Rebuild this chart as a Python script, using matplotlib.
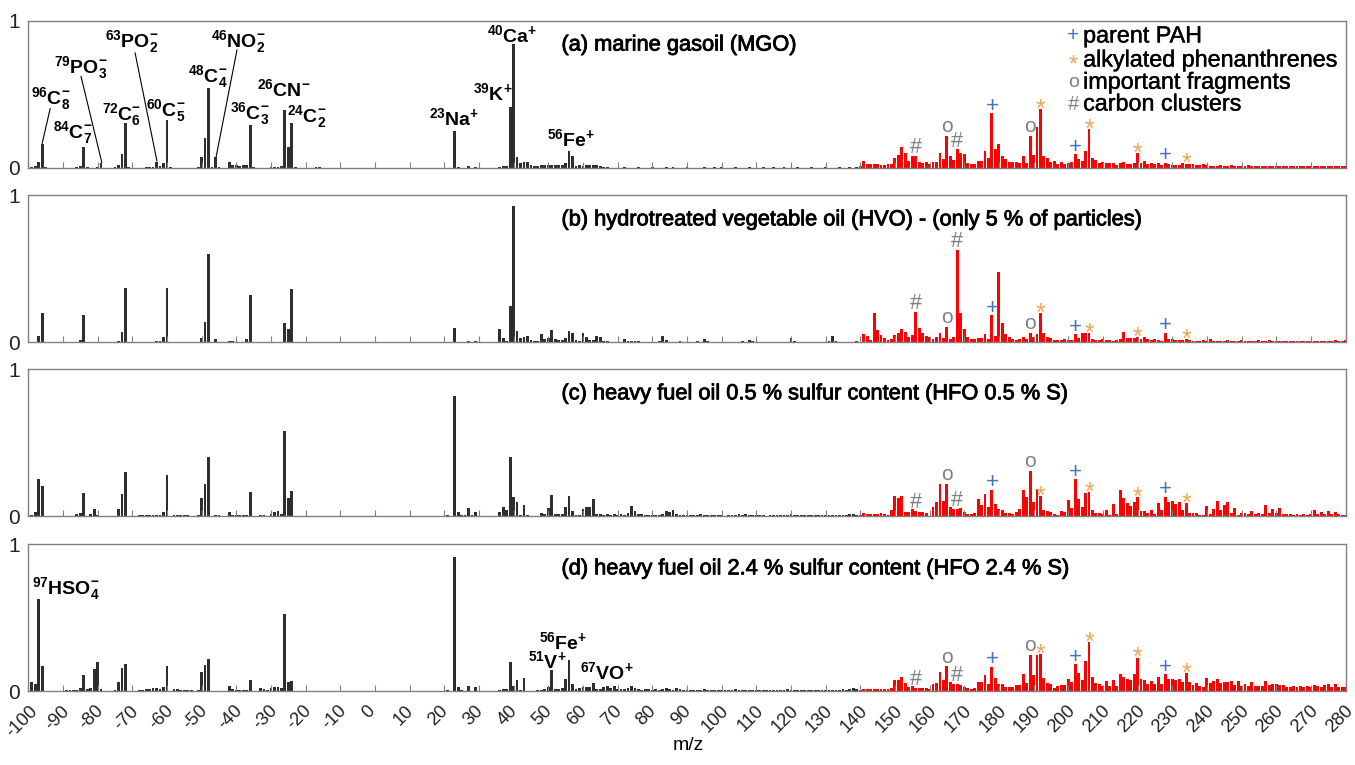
import matplotlib
matplotlib.use('Agg')
import matplotlib.pyplot as plt
import matplotlib.patheffects as pe
import matplotlib.transforms as mtransforms

plt.rcParams['font.family'] = ['Liberation Sans', 'DejaVu Sans']
plt.rcParams['mathtext.fontset'] = 'custom'
plt.rcParams['mathtext.rm'] = 'Liberation Sans:bold'
plt.rcParams['mathtext.bf'] = 'Liberation Sans:bold'
plt.rcParams['mathtext.it'] = 'Liberation Sans:bold'
plt.rcParams['mathtext.sf'] = 'Liberation Sans:bold'

# ---------------- data ----------------
titles = ["(a) marine gasoil (MGO)",
          "(b) hydrotreated vegetable oil (HVO) - (only 5 % of particles)",
          "(c) heavy fuel oil 0.5 % sulfur content (HFO 0.5 % S)",
          "(d) heavy fuel oil 2.4 % sulfur content (HFO 2.4 % S)"]

xticks = list(range(-100, 290, 10))
red_mz = list(range(140, 281))

# black part (m/z < 140): (m/z, relative intensity)
black_a = [(-99,0.005),(-98,0.01),(-97,0.04),(-96,0.16),(-95,0.003),(-86,0.004),(-85,0.01),(-84,0.14),(-83,0.005),
           (-80,0.005),(-79,0.03),(-75,0.004),(-74,0.02),(-73,0.09),(-72,0.30),(-71,0.005),(-66,0.004),(-65,0.004),
           (-64,0.003),(-63,0.04),(-62,0.01),(-61,0.03),(-60,0.32),(-59,0.004),(-51,0.005),(-50,0.07),(-49,0.20),
           (-48,0.54),(-47,0.005),(-46,0.07),(-45,0.003),(-42,0.04),(-41,0.015),(-40,0.02),(-39,0.012),(-38,0.015),
           (-37,0.02),(-36,0.29),(-35,0.003),(-30,0.003),(-29,0.003),(-28,0.005),(-27,0.01),(-26,0.39),(-25,0.14),
           (-24,0.30),(-23,0.004),(-17,0.005),(-16,0.004),
           (23,0.25),(24,0.004),(27,0.008),(29,0.006),(36,0.006),(37,0.01),(38,0.01),(39,0.415),(40,0.84),(41,0.07),
           (42,0.03),(43,0.035),(44,0.035),(45,0.015),(46,0.012),(47,0.01),(48,0.015),(49,0.02),(50,0.02),(51,0.02),
           (52,0.015),(53,0.015),(54,0.02),(55,0.03),(56,0.115),(57,0.08),(58,0.01),(59,0.015),(60,0.01),(61,0.015),
           (62,0.02),(63,0.02),(64,0.015),(65,0.01),(66,0.005),(67,0.004),(72,0.005),(76,0.004),(80,0.003),(84,0.005),
           (86,0.005),(90,0.004),(95,0.003),(98,0.005),(100,0.004),(104,0.003),(108,0.004),(112,0.005),(115,0.004),
           (118,0.003),(122,0.004),(126,0.005),(130,0.004),(134,0.004),(137,0.005),(139,0.006)]

black_b = [(-97,0.043),(-96,0.20),(-85,0.016),(-84,0.185),(-82,0.004),(-74,0.01),(-73,0.07),(-72,0.37),(-63,0.01),
           (-62,0.008),(-61,0.034),(-60,0.37),(-51,0.004),(-50,0.027),(-49,0.135),(-48,0.60),(-46,0.022),(-42,0.01),
           (-41,0.008),(-37,0.02),(-36,0.325),(-27,0.005),(-26,0.133),(-25,0.09),(-24,0.36),(-18,0.003),
           (23,0.097),(24,0.003),(27,0.008),(29,0.007),(36,0.093),(37,0.03),(38,0.008),(39,0.25),(40,0.93),(41,0.077),
           (42,0.027),(43,0.038),(44,0.045),(45,0.014),(46,0.01),(47,0.012),(48,0.054),(49,0.02),(50,0.027),(51,0.084),
           (52,0.02),(53,0.017),(54,0.017),(55,0.03),(56,0.08),(57,0.065),(58,0.014),(59,0.012),(60,0.063),(61,0.034),
           (62,0.014),(63,0.016),(64,0.043),(65,0.036),(66,0.012),(67,0.008),(68,0.005),(70,0.005),(72,0.02),(73,0.01),
           (74,0.008),(75,0.006),(76,0.006),(77,0.005),(78,0.005),(80,0.004),(82,0.006),(83,0.043),(84,0.015),(85,0.005),
           (88,0.008),(90,0.005),(93,0.006),(95,0.02),(96,0.01),(99,0.004),(102,0.005),(106,0.006),(108,0.016),
           (109,0.008),(112,0.005),(116,0.004),(120,0.027),(121,0.01),(124,0.004),(128,0.005),(131,0.008),(132,0.04),
           (133,0.012),(136,0.004),(139,0.006)]

black_c = [(-99,0.01),(-98,0.027),(-97,0.254),(-96,0.204),(-95,0.003),(-94,0.003),(-93,0.003),(-92,0.003),(-91,0.003),
           (-89,0.004),(-88,0.005),(-87,0.005),(-86,0.014),(-85,0.02),(-84,0.16),(-83,0.005),(-82,0.016),(-81,0.048),
           (-80,0.01),(-79,0.003),(-76,0.003),(-75,0.005),(-74,0.05),(-73,0.152),(-72,0.30),(-70,0.004),(-69,0.005),
           (-68,0.006),(-67,0.008),(-66,0.008),(-65,0.008),(-64,0.01),(-63,0.007),(-62,0.008),(-61,0.03),(-60,0.28),
           (-58,0.008),(-57,0.008),(-56,0.006),(-55,0.006),(-54,0.006),(-53,0.004),(-51,0.007),(-50,0.127),(-49,0.22),
           (-48,0.404),(-46,0.008),(-45,0.006),(-42,0.03),(-41,0.01),(-40,0.012),(-39,0.008),(-38,0.008),(-37,0.008),
           (-36,0.166),(-33,0.01),(-32,0.008),(-30,0.014),(-29,0.028),(-28,0.036),(-27,0.018),(-26,0.58),(-25,0.125),
           (-24,0.172),(-18,0.004),(-17,0.004),(-16,0.004),(-15,0.003),
           (21,0.008),(23,0.82),(24,0.03),(25,0.008),(26,0.008),(27,0.055),(28,0.008),(29,0.032),(36,0.032),(37,0.06),
           (38,0.043),(39,0.40),(40,0.13),(41,0.095),(42,0.01),(43,0.075),(44,0.01),(45,0.005),(47,0.004),(48,0.023),
           (49,0.018),(50,0.059),(51,0.147),(52,0.014),(53,0.014),(54,0.014),(55,0.06),(56,0.138),(57,0.034),(58,0.01),
           (59,0.01),(60,0.05),(61,0.066),(62,0.063),(63,0.118),(64,0.014),(65,0.014),(66,0.01),(67,0.016),(68,0.008),
           (69,0.018),(70,0.008),(71,0.014),(72,0.008),(73,0.025),(74,0.07),(75,0.038),(76,0.018),(77,0.018),(78,0.01),
           (79,0.012),(80,0.01),(81,0.012),(82,0.008),(83,0.018),(84,0.034),(85,0.03),(86,0.043),(87,0.018),
           (88,0.012),(89,0.008),(90,0.01),(91,0.006),(92,0.012),(93,0.008),(94,0.014),(95,0.01),(96,0.008),(97,0.012),
           (98,0.006),(99,0.01),(100,0.008),(101,0.005),(102,0.008),(103,0.012),(104,0.006),(105,0.014),(106,0.01),
           (107,0.016),(108,0.012),(109,0.008),(110,0.01),(111,0.006),(112,0.008),(113,0.005),(114,0.008),(115,0.006),
           (116,0.01),(117,0.008),(118,0.006),(119,0.012),(120,0.016),(121,0.01),(122,0.008),(123,0.006),(124,0.008),
           (125,0.01),(126,0.006),(127,0.008),(128,0.012),(129,0.008),(130,0.006),(131,0.01),(132,0.012),(133,0.008),
           (134,0.01),(135,0.006),(136,0.012),(137,0.014),(138,0.018),(139,0.012)]

black_d = [(-99,0.063),(-98,0.05),(-97,0.628),(-96,0.172),(-95,0.003),(-94,0.003),(-93,0.003),(-92,0.004),(-90,0.004),
           (-89,0.006),(-88,0.008),(-87,0.01),(-86,0.012),(-85,0.023),(-84,0.113),(-83,0.014),(-82,0.023),(-81,0.154),
           (-80,0.197),(-79,0.018),(-76,0.003),(-75,0.006),(-74,0.066),(-73,0.159),(-72,0.186),(-70,0.004),(-69,0.004),
           (-68,0.008),(-67,0.006),(-66,0.016),(-65,0.016),(-64,0.025),(-63,0.022),(-62,0.014),(-61,0.03),(-60,0.172),
           (-58,0.018),(-57,0.018),(-56,0.01),(-55,0.01),(-54,0.008),(-53,0.01),(-51,0.006),(-50,0.13),(-49,0.177),
           (-48,0.22),(-46,0.004),(-42,0.036),(-41,0.014),(-40,0.01),(-39,0.008),(-38,0.008),(-37,0.01),(-36,0.08),
           (-33,0.023),(-32,0.016),(-31,0.01),(-30,0.02),(-29,0.032),(-28,0.032),(-27,0.025),(-26,0.526),(-25,0.066),
           (-24,0.07),(-18,0.003),(-17,0.003),(-16,0.003),
           (21,0.006),(23,0.914),(24,0.03),(25,0.006),(27,0.036),(29,0.032),(35,0.005),(36,0.01),(37,0.014),(38,0.014),
           (39,0.20),(40,0.036),(41,0.08),(42,0.01),(43,0.09),(44,0.005),(47,0.006),(48,0.01),(49,0.014),(50,0.027),
           (51,0.145),(52,0.014),(53,0.014),(54,0.025),(55,0.086),(56,0.215),(57,0.052),(58,0.014),(59,0.023),(60,0.027),
           (61,0.027),(62,0.027),(63,0.059),(64,0.018),(65,0.018),(66,0.027),(67,0.036),(68,0.023),(69,0.038),(70,0.018),
           (71,0.018),(72,0.014),(73,0.023),(74,0.036),(75,0.023),(76,0.014),(77,0.012),(78,0.018),(79,0.014),(80,0.01),
           (81,0.016),(82,0.012),(83,0.014),(84,0.02),(85,0.016),(86,0.012),(87,0.02),
           (88,0.014),(89,0.01),(90,0.008),(91,0.012),(92,0.008),(93,0.006),(94,0.01),(95,0.014),(96,0.008),(97,0.006),
           (98,0.01),(99,0.012),(100,0.008),(101,0.006),(102,0.01),(103,0.008),(104,0.014),(105,0.01),(106,0.006),
           (107,0.008),(108,0.012),(109,0.008),(110,0.006),(111,0.01),(112,0.012),(113,0.008),(114,0.006),(115,0.01),
           (116,0.008),(117,0.012),(118,0.008),(119,0.014),(120,0.01),(121,0.008),(122,0.006),(123,0.01),(124,0.012),
           (125,0.008),(126,0.01),(127,0.006),(128,0.01),(129,0.008),(130,0.012),(131,0.01),(132,0.008),(133,0.012),
           (134,0.01),(135,0.014),(136,0.01),(137,0.016),(138,0.02),(139,0.014)]

# red part (organic, m/z 140 ... 280)
red_a = [0.01, 0.046, 0.027, 0.023, 0.027, 0.027, 0.018, 0.018, 0.027, 0.027,
         0.068, 0.087, 0.137, 0.096, 0.046, 0.078, 0.078, 0.039, 0.032, 0.041,
         0.023, 0.041, 0.041, 0.10, 0.059, 0.217, 0.078, 0.05, 0.123, 0.096,
         0.091, 0.032, 0.027, 0.027, 0.046, 0.046, 0.114, 0.068, 0.37, 0.123,
         0.16, 0.08, 0.057, 0.041, 0.041, 0.041, 0.032, 0.078, 0.034, 0.217,
         0.084, 0.274, 0.397, 0.078, 0.068, 0.039, 0.046, 0.027, 0.041, 0.023,
         0.034, 0.037, 0.091, 0.057, 0.046, 0.11, 0.26, 0.064, 0.05, 0.034,
         0.039, 0.034, 0.034, 0.034, 0.018, 0.03, 0.037, 0.027, 0.027, 0.034,
         0.096, 0.034, 0.046, 0.023, 0.034, 0.023, 0.03, 0.018, 0.032, 0.023,
         0.018, 0.014, 0.018, 0.034, 0.027, 0.023, 0.023, 0.018, 0.018, 0.023,
         0.014, 0.012, 0.01, 0.012, 0.014, 0.01, 0.012, 0.016, 0.01, 0.012,
         0.01, 0.012, 0.014, 0.01, 0.012, 0.01, 0.011, 0.013, 0.01, 0.012,
         0.01, 0.011, 0.012, 0.01, 0.009, 0.011, 0.01, 0.012, 0.01, 0.009,
         0.011, 0.01, 0.012, 0.009, 0.01, 0.011, 0.01, 0.009, 0.01, 0.011,
         0.012]

red_b = [0.005, 0.057, 0.043, 0.016, 0.20, 0.084, 0.05, 0.032, 0.016, 0.02,
         0.05, 0.061, 0.09, 0.072, 0.038, 0.05, 0.205, 0.10, 0.061, 0.045,
         0.034, 0.02, 0.034, 0.066, 0.027, 0.105, 0.02, 0.034, 0.63, 0.20,
         0.088, 0.038, 0.02, 0.02, 0.032, 0.027, 0.059, 0.02, 0.186, 0.045,
         0.48, 0.133, 0.057, 0.034, 0.02, 0.016, 0.02, 0.038, 0.02, 0.066,
         0.034, 0.057, 0.2, 0.061, 0.038, 0.027, 0.018, 0.016, 0.016, 0.02,
         0.014, 0.018, 0.057, 0.027, 0.066, 0.061, 0.061, 0.02, 0.018, 0.016,
         0.02, 0.014, 0.016, 0.012, 0.014, 0.02, 0.07, 0.03, 0.027, 0.03,
         0.034, 0.02, 0.035, 0.02, 0.018, 0.02, 0.014, 0.012, 0.066, 0.02,
         0.025, 0.014, 0.018, 0.016, 0.02, 0.014, 0.012, 0.01, 0.012, 0.016,
         0.012, 0.02, 0.012, 0.01, 0.012, 0.01, 0.014, 0.01, 0.012, 0.012,
         0.016, 0.012, 0.01, 0.012, 0.01, 0.014, 0.01, 0.012, 0.014, 0.01,
         0.012, 0.01, 0.012, 0.01, 0.01, 0.012, 0.01, 0.012, 0.01, 0.01,
         0.012, 0.01, 0.012, 0.01, 0.01, 0.012, 0.01, 0.014, 0.01, 0.012,
         0.014]

red_c = [0.012, 0.023, 0.014, 0.014, 0.018, 0.018, 0.023, 0.018, 0.01, 0.04,
         0.136, 0.122, 0.14, 0.032, 0.027, 0.048, 0.036, 0.027, 0.027, 0.023,
         0.005, 0.063, 0.095, 0.22, 0.104, 0.22, 0.063, 0.05, 0.05, 0.059,
         0.032, 0.018, 0.014, 0.023, 0.118, 0.077, 0.154, 0.061, 0.18, 0.086,
         0.052, 0.04, 0.023, 0.023, 0.014, 0.03, 0.05, 0.18, 0.13, 0.31,
         0.1, 0.184, 0.14, 0.043, 0.039, 0.032, 0.014, 0.01, 0.039, 0.032,
         0.113, 0.059, 0.254, 0.118, 0.063, 0.161, 0.168, 0.04, 0.025, 0.025,
         0.018, 0.04, 0.01, 0.084, 0.018, 0.18, 0.127, 0.09, 0.068, 0.1,
         0.134, 0.034, 0.034, 0.023, 0.045, 0.016, 0.093, 0.045, 0.134, 0.1,
         0.104, 0.086, 0.095, 0.045, 0.09, 0.025, 0.02, 0.023, 0.01, 0.01,
         0.073, 0.018, 0.052, 0.107, 0.045, 0.079, 0.098, 0.023, 0.054, 0.011,
         0.023, 0.023, 0.014, 0.038, 0.014, 0.025, 0.018, 0.079, 0.023, 0.052,
         0.023, 0.057, 0.016, 0.014, 0.014, 0.012, 0.014, 0.012, 0.014, 0.012,
         0.014, 0.04, 0.018, 0.029, 0.018, 0.038, 0.018, 0.027, 0.014, 0.01,
         0.01]

red_d = [0.01, 0.018, 0.016, 0.014, 0.016, 0.016, 0.014, 0.016, 0.016, 0.023,
         0.077, 0.077, 0.097, 0.054, 0.027, 0.038, 0.025, 0.025, 0.025, 0.023,
         0.014, 0.048, 0.054, 0.13, 0.077, 0.172, 0.061, 0.048, 0.052, 0.041,
         0.03, 0.023, 0.014, 0.025, 0.066, 0.063, 0.113, 0.052, 0.168, 0.09,
         0.05, 0.048, 0.032, 0.032, 0.03, 0.04, 0.045, 0.115, 0.057, 0.25,
         0.109, 0.25, 0.256, 0.088, 0.059, 0.05, 0.025, 0.036, 0.043, 0.041,
         0.086, 0.063, 0.184, 0.127, 0.079, 0.206, 0.336, 0.1, 0.059, 0.05,
         0.036, 0.073, 0.036, 0.075, 0.036, 0.118, 0.1, 0.082, 0.079, 0.116,
         0.23, 0.084, 0.077, 0.052, 0.068, 0.052, 0.095, 0.048, 0.116, 0.082,
         0.086, 0.077, 0.084, 0.063, 0.122, 0.061, 0.04, 0.054, 0.034, 0.03,
         0.09, 0.059, 0.07, 0.086, 0.059, 0.063, 0.066, 0.068, 0.04, 0.073,
         0.038, 0.05, 0.036, 0.063, 0.038, 0.034, 0.036, 0.068, 0.045, 0.05,
         0.048, 0.043, 0.041, 0.032, 0.03, 0.036, 0.032, 0.034, 0.032, 0.036,
         0.03, 0.045, 0.036, 0.032, 0.041, 0.048, 0.027, 0.05, 0.027, 0.027,
         0.027]

# marker symbols above peaks (same m/z in all panels)
parent_pah = [178, 202, 228]
alkyl_phen = [192, 206, 220, 234]
fragments = [165, 189]
clusters = [156, 168]

legend_labels = ["parent PAH", "alkylated phenanthrenes", "important fragments", "carbon clusters"]

# ion labels (text, m/z position, y position)
ions_a = [(r'$\mathrm{{}^{96}C_{8}^{-}}$', -93.6, 0.47),
          (r'$\mathrm{{}^{84}C_{7}^{-}}$', -87.2, 0.24),
          (r'$\mathrm{{}^{79}PO_{3}^{-}}$', -85.0, 0.68),
          (r'$\mathrm{{}^{72}C_{6}^{-}}$', -73.1, 0.36),
          (r'$\mathrm{{}^{63}PO_{2}^{-}}$', -70.1, 0.86),
          (r'$\mathrm{{}^{60}C_{5}^{-}}$', -60.4, 0.385),
          (r'$\mathrm{{}^{48}C_{4}^{-}}$', -48.3, 0.62),
          (r'$\mathrm{{}^{46}NO_{2}^{-}}$', -39.5, 0.86),
          (r'$\mathrm{{}^{36}C_{3}^{-}}$', -36.2, 0.365),
          (r'$\mathrm{{}^{26}CN^{-}}$', -26.4, 0.535),
          (r'$\mathrm{{}^{24}C_{2}^{-}}$', -19.7, 0.345),
          (r'$\mathrm{{}^{23}Na^{+}}$', 22.8, 0.335),
          (r'$\mathrm{{}^{39}K^{+}}$', 34.0, 0.505),
          (r'$\mathrm{{}^{40}Ca^{+}}$', 39.6, 0.90),
          (r'$\mathrm{{}^{56}Fe^{+}}$', 56.7, 0.195)]
# leader lines in panel a: (x0, y0, x1, y1)
leaders_a = [(-96, 0.165, -93.7, 0.40),
             (-78.8, 0.035, -84.8, 0.62),
             (-62.9, 0.045, -69.2, 0.78),
             (-45.8, 0.075, -39.8, 0.80)]
ions_d = [(r'$\mathrm{{}^{97}HSO_{4}^{-}}$', -98.8, 0.70, 'left'),
          (r'$\mathrm{{}^{56}Fe^{+}}$', 54.4, 0.335, 'center'),
          (r'$\mathrm{{}^{51}V^{+}}$', 49.7, 0.205, 'center'),
          (r'$\mathrm{{}^{67}VO^{+}}$', 67.0, 0.13, 'center')]

# ---------------- styling ----------------
BLACK = '#2e2e2e'
RED = '#ff0000'
BLUE = '#4472c4'
ORANGE = '#f5a553'
GRAY = '#808080'
SPINE = '#808080'
heavy = [pe.withStroke(linewidth=0.6, foreground='black')]

sym_style = {
    '+': dict(color=BLUE, fontsize=16, dy=1.0),
    '*': dict(color=ORANGE, fontsize=18, dy=-5.6),
    'o': dict(color=GRAY, fontsize=15, dy=2.5),
    '#': dict(color=GRAY, fontsize=15.5, dy=2.0),
}

fig = plt.figure(figsize=(13.55, 7.65), dpi=100)
left, width, height = 0.0209, 0.9721, 0.1922
bottoms = [0.7810, 0.5525, 0.3251, 0.0963]
blacks = [black_a, black_b, black_c, black_d]
reds = [red_a, red_b, red_c, red_d]

axes = []
for i in range(4):
    ax = fig.add_axes([left, bottoms[i], width, height])
    axes.append(ax)
    bx = [p[0] for p in blacks[i]]
    by = [p[1] for p in blacks[i]]
    ax.bar(bx, by, width=0.8, color=BLACK, linewidth=0)
    ax.bar(red_mz, reds[i], width=0.84, color=RED, linewidth=0)
    ax.set_xlim(-100, 280)
    ax.set_ylim(0, 1)
    for s in ax.spines.values():
        s.set_color(SPINE)
        s.set_linewidth(1.0)
    ax.set_xticks(xticks)
    ax.tick_params(axis='x', direction='in', length=4, width=0.8, color=SPINE)
    ax.set_yticks([0, 1])
    ax.set_yticklabels(['0', '1'], fontsize=15, color='#222222')
    ax.tick_params(axis='y', length=0, pad=6)
    if i < 3:
        ax.set_xticklabels([])
    else:
        ax.set_xticklabels([str(t) for t in xticks], rotation=45, ha='center',
                           va='top', fontsize=13.2, color='#222222')
        ax.tick_params(axis='x', pad=8)
        shift = mtransforms.ScaledTranslation(-6 / 100, 0, fig.dpi_scale_trans)
        for lab in ax.get_xticklabels():
            lab.set_transform(lab.get_transform() + shift)
    ax.text(53.8, 0.833, titles[i], fontsize=15.7, ha='left', va='center',
            path_effects=heavy)

    # symbols above peaks
    red_vals = dict(zip(red_mz, reds[i]))
    for sym, lst in (('+', parent_pah), ('*', alkyl_phen), ('o', fragments), ('#', clusters)):
        st = sym_style[sym]
        for m in lst:
            ax.annotate(sym, xy=(m, red_vals[m]), xytext=(0, st['dy']),
                        textcoords='offset points', ha='center', va='baseline',
                        fontsize=st['fontsize'], color=st['color'])

# legend (panel a, as text)
ax = axes[0]
leg_y = [0.895, 0.731, 0.58, 0.432]
leg_sym = ['+', '*', 'o', '#']
leg_sym_dy = [0.0, -0.04, 0.0, 0.0]
for k in range(4):
    st = sym_style[leg_sym[k]]
    ax.text(201.4, leg_y[k] + leg_sym_dy[k], leg_sym[k], fontsize=st['fontsize'] - 1,
            color=st['color'], ha='center', va='center')
    ax.text(204.3, leg_y[k], legend_labels[k], fontsize=16.8, ha='left', va='center',
            path_effects=[pe.withStroke(linewidth=0.3, foreground='black')])

for txt, x, y in ions_a:
    ax.text(x, y, txt, fontsize=14, ha='center', va='center')
for x0, y0, x1, y1 in leaders_a:
    ax.plot([x0, x1], [y0, y1], color='black', linewidth=0.8)

ax = axes[3]
for txt, x, y, ha in ions_d:
    ax.text(x, y, txt, fontsize=14, ha=ha, va='center')

fig.text(0.5077, 0.026, 'm/z', fontsize=14, ha='center', va='center')

fig.savefig('out.png', dpi=100)
